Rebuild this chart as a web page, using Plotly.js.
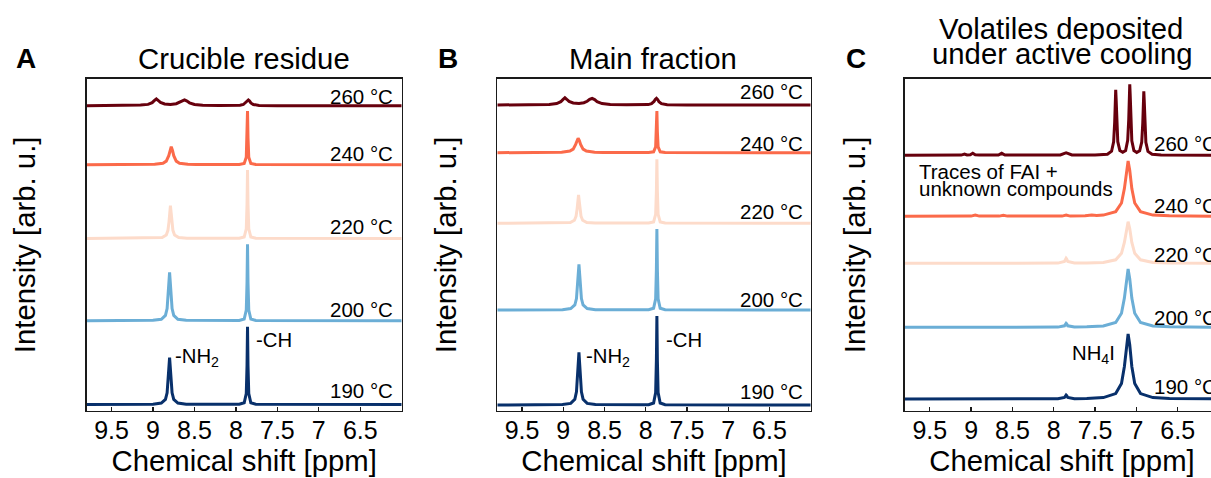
<!DOCTYPE html>
<html>
<head>
<meta charset="utf-8">
<script src="https://cdn.plot.ly/plotly-3.0.1.min.js"></script>
<style>
  html, body { margin: 0; padding: 0; overflow: hidden; background: #fff; }
  #chart { width: 1230px; height: 478px; }
</style>
</head>
<body>
<div id="chart"></div>
<script>
// ---------------- DATA ----------------
const temperatures = ['190 °C', '200 °C', '220 °C', '240 °C', '260 °C'];
const panelTitles = ['Crucible residue', 'Main fraction', 'Volatiles deposited', 'under active cooling'];
const panelLetters = ['A', 'B', 'C'];
const xTickVals = [9.5, 9, 8.5, 8, 7.5, 7, 6.5];
const xTickText = ['9.5', '9', '8.5', '8', '7.5', '7', '6.5'];
const xAxisTitle = 'Chemical shift [ppm]';
const yAxisTitle = 'Intensity [arb. u.]';

// spectra: [chemical shift (ppm), intensity above own baseline (arb. u.)]
const crucible190 = [[9.80,0],[9.00,0.35],[8.90,1.4],[8.85,5.1],[8.83,11.7],[8.8175,23.4],[8.81,35.1],[8.80,46.8],[8.79,35.1],[8.7825,23.4],[8.77,11.7],[8.75,5.1],[8.70,1.4],[8.60,0.35],[7.96,0.3],[7.90,1.7],[7.875,10.9],[7.866,38.9],[7.86,77.8],[7.854,38.9],[7.845,10.9],[7.82,1.7],[7.76,0.3],[6.00,0]];
const crucible200 = [[9.80,0],[9.00,0.36],[8.90,1.45],[8.85,5.3],[8.83,12.1],[8.8175,24.2],[8.81,36.3],[8.80,48.4],[8.79,36.3],[8.7825,24.2],[8.77,12.1],[8.75,5.3],[8.70,1.45],[8.60,0.36],[7.96,0.3],[7.90,1.7],[7.875,10.7],[7.866,38.2],[7.86,76.4],[7.854,38.2],[7.845,10.7],[7.82,1.7],[7.76,0.3],[6.00,0]];
const crucible220 = [[9.80,0],[8.99,0.25],[8.89,1.0],[8.84,3.6],[8.82,8.2],[8.8075,16.4],[8.80,24.6],[8.79,32.8],[8.78,24.6],[8.7725,16.4],[8.76,8.2],[8.74,3.6],[8.69,1.0],[8.59,0.25],[7.96,0.25],[7.90,1.5],[7.875,9.6],[7.866,34.3],[7.86,68.5],[7.854,34.3],[7.845,9.6],[7.82,1.5],[7.76,0.25],[6.00,0]];
const crucible240 = [[9.80,0],[9.08,0.18],[8.98,0.4],[8.88,1.5],[8.84,3.6],[8.81,9],[8.795,14.4],[8.78,18],[8.765,14.4],[8.75,9],[8.72,3.6],[8.68,1.5],[8.58,0.4],[8.48,0.18],[7.96,0.2],[7.90,1.2],[7.875,7.5],[7.866,26.9],[7.86,53.7],[7.854,26.9],[7.845,7.5],[7.82,1.2],[7.76,0.2],[6.00,0]];
const crucible260 = [[9.80,0],[9.30,0.2],[9.15,0.6],[9.06,1.3],[9.01,3.0],[8.985,5.0],[8.96,6.7],[8.935,5.0],[8.91,3.3],[8.86,1.8],[8.79,1.3],[8.72,2.0],[8.68,3.2],[8.65,4.8],[8.62,5.7],[8.59,4.6],[8.56,2.9],[8.50,1.2],[8.40,0.5],[8.20,0.2],[7.95,0.4],[7.91,1.2],[7.88,3.0],[7.865,4.8],[7.85,5.7],[7.835,4.6],[7.82,2.8],[7.79,1.2],[7.72,0.3],[7.50,0],[6.00,0]];

const mainFrac190 = [[9.80,0],[9.01,0.4],[8.91,1.6],[8.86,5.8],[8.84,13.2],[8.8275,26.4],[8.82,39.5],[8.81,52.7],[8.80,39.5],[8.7925,26.4],[8.78,13.2],[8.76,5.8],[8.71,1.6],[8.61,0.4],[7.965,0.3],[7.905,2.0],[7.88,12.5],[7.871,44.5],[7.865,89],[7.859,44.5],[7.85,12.5],[7.825,2.0],[7.765,0.3],[6.00,0]];
const mainFrac200 = [[9.80,0],[9.01,0.34],[8.91,1.4],[8.86,5.0],[8.84,11.4],[8.8275,22.9],[8.82,34.3],[8.81,45.7],[8.80,34.3],[8.7925,22.9],[8.78,11.4],[8.76,5.0],[8.71,1.4],[8.61,0.34],[7.965,0.3],[7.905,1.8],[7.88,11.3],[7.871,40.5],[7.865,81],[7.859,40.5],[7.85,11.3],[7.825,1.8],[7.765,0.3],[6.00,0]];
const mainFrac220 = [[9.80,0],[9.015,0.2],[8.915,0.85],[8.865,3.1],[8.845,7.1],[8.8325,14.2],[8.825,21.2],[8.815,28.3],[8.805,21.2],[8.7975,14.2],[8.785,7.1],[8.765,3.1],[8.715,0.85],[8.615,0.2],[7.965,0.23],[7.905,1.4],[7.88,9.0],[7.871,32],[7.865,64],[7.859,32],[7.85,9.0],[7.825,1.4],[7.765,0.23],[6.00,0]];
const mainFrac240 = [[9.80,0],[9.12,0.19],[9.02,0.43],[8.92,1.6],[8.88,3.6],[8.85,8.3],[8.835,12.1],[8.82,14.4],[8.805,12.1],[8.79,8.3],[8.76,3.6],[8.72,1.6],[8.62,0.43],[8.52,0.19],[7.965,0.15],[7.905,0.9],[7.88,5.8],[7.871,20.9],[7.865,41.7],[7.859,20.9],[7.85,5.8],[7.825,0.9],[7.765,0.15],[6.00,0]];
const mainFrac260 = [[9.80,0],[9.32,0.2],[9.17,0.6],[9.08,1.4],[9.03,3.3],[9.005,5.4],[8.98,7.3],[8.955,5.5],[8.93,3.6],[8.88,2.0],[8.81,1.5],[8.75,2.3],[8.71,3.7],[8.68,5.6],[8.65,6.7],[8.62,5.4],[8.59,3.4],[8.53,1.4],[8.43,0.5],[8.23,0.2],[7.97,0.4],[7.93,1.4],[7.90,3.5],[7.885,5.6],[7.87,6.7],[7.855,5.4],[7.84,3.3],[7.81,1.4],[7.74,0.3],[7.50,0],[6.00,0]];

const volatiles190 = [[9.80,0],[7.95,0.2],[7.87,1.5],[7.855,3.6],[7.85,4],[7.845,3.6],[7.83,1.5],[7.75,0.3],[7.60,0.5],[7.40,1.4],[7.25,5.4],[7.18,15.6],[7.145,32.5],[7.12,54],[7.10,65],[7.08,54],[7.055,32.5],[7.02,15.6],[6.95,5.4],[6.80,1.4],[6.60,0.5],[6.00,0.1]];
const volatiles200 = [[9.80,0],[7.95,0.2],[7.87,1.5],[7.855,3.6],[7.85,4],[7.845,3.6],[7.83,1.5],[7.75,0.3],[7.60,0.5],[7.40,1.3],[7.25,4.8],[7.18,14],[7.145,29.2],[7.12,48.4],[7.10,58.3],[7.08,48.4],[7.055,29.2],[7.02,14],[6.95,4.8],[6.80,1.3],[6.60,0.5],[6.00,0.1]];
const volatiles220 = [[9.80,0],[7.95,0.2],[7.87,1.8],[7.855,4.5],[7.85,5],[7.845,4.5],[7.83,1.8],[7.75,0.3],[7.60,0.33],[7.40,0.9],[7.25,3.5],[7.18,10],[7.145,20.8],[7.12,34.5],[7.10,41.6],[7.08,34.5],[7.055,20.8],[7.02,10],[6.95,3.5],[6.80,0.9],[6.60,0.33],[6.00,0.1]];
const volatiles240 = [[9.80,0],[9.00,0.2],[8.95,1.2],[8.90,0.2],[8.66,0.2],[8.61,1.0],[8.56,0.2],[7.90,0.2],[7.85,1.2],[7.80,0.2],[7.62,0.5],[7.54,1.3],[7.48,0.9],[7.40,1.2],[7.25,4.6],[7.18,13.3],[7.145,27.7],[7.12,45.9],[7.10,55.3],[7.08,45.9],[7.055,27.7],[7.02,13.3],[6.95,4.6],[6.80,1.2],[6.60,0.44],[6.00,0.1]];
const volatiles260 = [[9.80,0],[9.12,0.2],[9.08,1.2],[9.05,0.3],[9.01,0.6],[8.98,2.0],[8.95,0.6],[8.90,0.2],[8.67,0.3],[8.63,2.0],[8.59,0.3],[7.92,0.3],[7.87,2.0],[7.85,2.5],[7.83,2.0],[7.78,0.3],[7.50,0.3],[7.35,1.1],[7.30,4.1],[7.275,13.4],[7.2625,33],[7.255,56.5],[7.25,65.6],[7.245,56.5],[7.2375,33.1],[7.225,13.6],[7.20,4.7],[7.165,3.0],[7.13,4.8],[7.105,14.9],[7.0925,35.6],[7.085,60.9],[7.08,70.9],[7.075,60.9],[7.0675,35.6],[7.055,14.6],[7.03,4.8],[6.995,2.9],[6.96,4.5],[6.935,13.2],[6.9225,32.2],[6.915,55.1],[6.91,64.0],[6.905,55.1],[6.8975,32.1],[6.885,12.9],[6.86,3.9],[6.81,1.0],[6.70,0.3],[6.00,0]];

// ---------------- STYLE / LAYOUT ----------------
const W = 1230, H = 478;
const FONT = 'Liberation Sans, Arial, Helvetica, sans-serif';
const TITLE_SIZE = 29.3;
const lineColors = ['#08306b', '#6baed6', '#fddbca', '#fb6a4a', '#67000d'];
const stackOffsetA = [6.2, 90, 172.2, 246, 305];
const stackOffsetB = [5.7, 100.7, 187.4, 258, 305.7];
const stackOffsetC = [11.7, 83.4, 147.4, 194.4, 255.4];
const labelYA = [19.9, 101.2, 184, 257.4, 314.7];
const labelYB = [19, 111.4, 199, 266.9, 319.4];
const labelYC = [24, 93.7, 156.5, 205.7, 267.4];

const panels = [
  { spectra: [crucible190, crucible200, crucible220, crucible240, crucible260], off: stackOffsetA, ly: labelYA, xa: 'x', ya: 'y', left: 86.7, right: 401.7, yStandoff: 41 },
  { spectra: [mainFrac190, mainFrac200, mainFrac220, mainFrac240, mainFrac260], off: stackOffsetB, ly: labelYB, xa: 'x2', ya: 'y2', left: 497.3, right: 810.7, yStandoff: 30 },
  { spectra: [volatiles190, volatiles200, volatiles220, volatiles240, volatiles260], off: stackOffsetC, ly: labelYC, xa: 'x3', ya: 'y3', left: 905, right: 1219, yStandoff: 29 }
];

const traces = [];
panels.forEach(p => {
  for (let i = p.spectra.length - 1; i >= 0; i--) {
    const s = p.spectra[i];
    traces.push({
      type: 'scatter', mode: 'lines',
      x: s.map(d => d[0]),
      y: s.map(d => d[1] + p.off[i]),
      xaxis: p.xa, yaxis: p.ya,
      line: { color: lineColors[i], width: 3 },
      hoverinfo: 'skip', showlegend: false
    });
  }
});

const TOP = 79, BOTTOM = 410.7;
const yDomain = [1 - BOTTOM / H, 1 - TOP / H];
const frame = '#1a1a1a';
function xAxis(p) {
  return {
    domain: [p.left / W, p.right / W], range: [9.8, 6.0], anchor: p.ya,
    showline: true, mirror: true, linecolor: frame, linewidth: 1.6,
    ticks: 'inside', ticklen: 4, tickwidth: 1.3, tickcolor: frame,
    tickvals: xTickVals, ticktext: xTickText, ticklabelstandoff: -3,
    tickfont: { family: FONT, size: 25, color: '#000' },
    title: { text: xAxisTitle, standoff: 6, font: { family: FONT, size: TITLE_SIZE, color: '#000' } },
    automargin: false,
    showgrid: false, zeroline: false, fixedrange: true
  };
}
function yAxis(p) {
  return {
    domain: yDomain, range: [0, BOTTOM - TOP], anchor: p.xa,
    showline: true, mirror: true, linecolor: frame, linewidth: 1.6,
    ticks: '', showticklabels: false, showgrid: false, zeroline: false, fixedrange: true,
    title: { text: yAxisTitle, standoff: p.yStandoff, font: { family: FONT, size: TITLE_SIZE, color: '#000' } },
    automargin: false
  };
}

const ann = [];
const px = v => v / W, py = v => 1 - v / H;
function paperText(text, x, y, size, opts) {
  ann.push(Object.assign({ text, x: px(x), y: py(y), xref: 'paper', yref: 'paper',
    xanchor: 'center', yanchor: 'middle', showarrow: false,
    font: { family: FONT, size, color: '#000' } }, opts || {}));
}
// panel letters
paperText('<b>' + panelLetters[0] + '</b>', 25.5, 58.5, 28);
paperText('<b>' + panelLetters[1] + '</b>', 447.5, 58.5, 28);
paperText('<b>' + panelLetters[2] + '</b>', 855.5, 58.8, 28);
// panel titles
paperText(panelTitles[0], 243.5, 58.8, TITLE_SIZE);
paperText(panelTitles[1], 652.5, 58.8, TITLE_SIZE);
paperText(panelTitles[2], 1061.3, 28.8, TITLE_SIZE);
paperText(panelTitles[3], 1062.2, 53.4, TITLE_SIZE);
// temperature labels
panels.forEach((p, k) => {
  temperatures.forEach((t, i) => {
    ann.push({ text: t, xref: p.xa, yref: p.ya,
      x: k === 2 ? 6.81 : 6.075, xanchor: k === 2 ? 'left' : 'right',
      y: p.ly[i], yanchor: 'middle', showarrow: false,
      font: { family: FONT, size: 20.5, color: '#000' } });
  });
});
function dataText(text, xa, ya, x, y, xanchor, size) {
  ann.push({ text, xref: xa, yref: ya, x, y, xanchor, yanchor: 'middle', showarrow: false,
    font: { family: FONT, size, color: '#000' } });
}
dataText('-NH<sub>2</sub>', 'x', 'y', 8.757, 53.5, 'left', 20.3);
dataText('-CH', 'x', 'y', 7.785, 70.7, 'left', 20.3);
dataText('-NH<sub>2</sub>', 'x2', 'y2', 8.747, 53.5, 'left', 20.3);
dataText('-CH', 'x2', 'y2', 7.778, 70.7, 'left', 20.3);
dataText('NH<sub>4</sub>I', 'x3', 'y3', 7.237, 56.5, 'right', 20.3);
dataText('Traces of FAI +', 'x3', 'y3', 9.658, 239, 'left', 20.5);
dataText('unknown compounds', 'x3', 'y3', 9.658, 222.6, 'left', 20.5);

const layout = {
  width: W, height: H,
  margin: { l: 0, r: 0, t: 0, b: 0 },
  paper_bgcolor: '#fff', plot_bgcolor: '#fff',
  showlegend: false,
  font: { family: FONT, color: '#000' },
  xaxis: xAxis(panels[0]), yaxis: yAxis(panels[0]),
  xaxis2: xAxis(panels[1]), yaxis2: yAxis(panels[1]),
  xaxis3: xAxis(panels[2]), yaxis3: yAxis(panels[2]),
  annotations: ann
};
Plotly.newPlot('chart', traces, layout, { displayModeBar: false, staticPlot: true, responsive: false });
</script>
</body>
</html>
